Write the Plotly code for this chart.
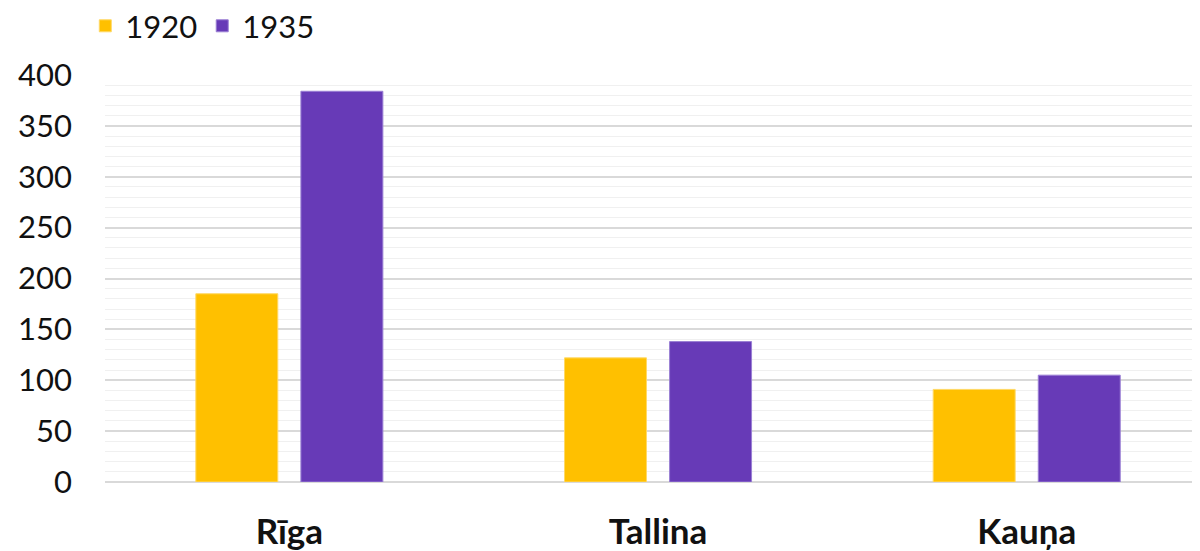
import plotly.graph_objects as go

categories = ["Rīga", "Tallina", "Kauņa"]
series_1920 = [185, 122, 91]
series_1935 = [384, 138, 105]
series_names = ["1920", "1935"]
y_ticks = [0, 50, 100, 150, 200, 250, 300, 350, 400]

fig = go.Figure()
fig.add_trace(go.Bar(x=categories, y=series_1920, name=series_names[0],
                     marker=dict(color="#FFC000", line=dict(color="#FFD966", width=1))))
fig.add_trace(go.Bar(x=categories, y=series_1935, name=series_names[1],
                     marker=dict(color="#673AB7", line=dict(color="#9A7FD4", width=1))))

fig.update_layout(
    width=1200, height=551,
    margin=dict(l=97, r=8, t=67, b=77, autoexpand=False),
    plot_bgcolor="white", paper_bgcolor="white",
    barmode="group", bargap=0.43, bargroupgap=0.22,
    font=dict(family="Lato, Noto Sans, sans-serif", color="#111111"),
    legend=dict(orientation="h", x=-0.018, xanchor="left", y=1.12, yref="paper",
                yanchor="middle", font=dict(size=31), itemwidth=30, tracegroupgap=0,
                traceorder="normal"),
    showlegend=True,
)
fig.update_xaxes(range=[-0.5, 2.47], showgrid=False, zeroline=False, showline=False, automargin=False,
                 tickfont=dict(size=35, family="Lato, Noto Sans, sans-serif", color="#111111", weight="bold"),
                 ticklabelstandoff=26, ticks="")
fig.update_yaxes(range=[0, 400], tickvals=y_ticks, showgrid=True, gridcolor="#D9D9D9", gridwidth=1.5,
                 minor=dict(dtick=10, showgrid=True, gridcolor="#F0F0F0", gridwidth=1), automargin=False,
                 zeroline=True, zerolinecolor="#D9D9D9", zerolinewidth=1.5, showline=False,
                 tickfont=dict(size=31), ticklabelstandoff=32, ticks="")
fig.write_html("out.html")
